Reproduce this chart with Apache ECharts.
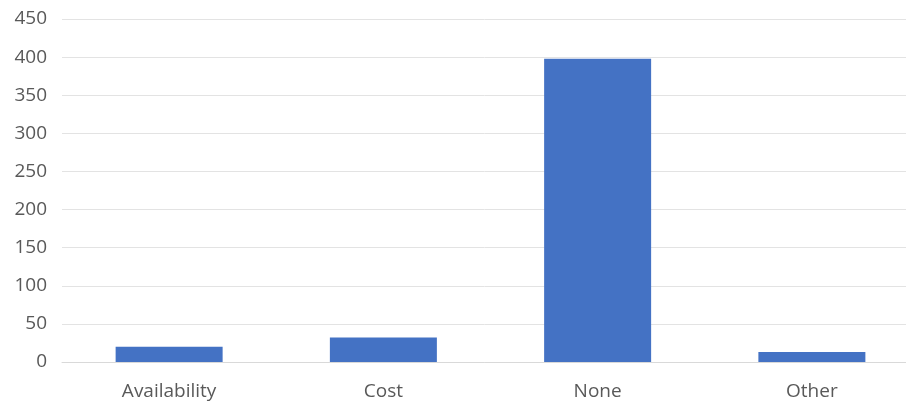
<!DOCTYPE html>
<html><head><meta charset="utf-8">
<script src="https://cdn.jsdelivr.net/npm/echarts@6/dist/echarts.min.js"></script>
<style>html,body{margin:0;padding:0;background:#fff}#c{width:906px;height:405px}</style>
</head><body><div id="c"></div>
<script>
const categories = ["Availability", "Cost", "None", "Other"];
const values = [20, 32, 398, 13];
const yTicks = { min: 0, max: 450, interval: 50 };

const chart = echarts.init(document.getElementById('c'), null, { renderer: 'canvas' });
chart.setOption({
  animation: false,
  grid: { left: 62, top: 19, width: 857, height: 343, containLabel: false, outerBoundsMode: 'none' },
  xAxis: {
    type: 'category',
    data: categories,
    axisLine: { show: true, lineStyle: { color: '#d9d9d9', width: 1 } },
    axisTick: { show: false },
    axisLabel: { color: '#595959', fontSize: 19, fontFamily: 'Open Sans, Noto Sans, sans-serif', margin: 20 }
  },
  yAxis: {
    type: 'value',
    min: yTicks.min, max: yTicks.max, interval: yTicks.interval,
    axisLine: { show: false },
    axisTick: { show: false },
    splitLine: { lineStyle: { color: '#e3e3e3', width: 1 } },
    axisLabel: { color: '#595959', fontSize: 19, fontFamily: 'Open Sans, Noto Sans, sans-serif', margin: 15 }
  },
  series: [{
    type: 'bar',
    data: values,
    barWidth: 107,
    itemStyle: { color: '#4472C4' }
  }]
});
</script></body></html>
